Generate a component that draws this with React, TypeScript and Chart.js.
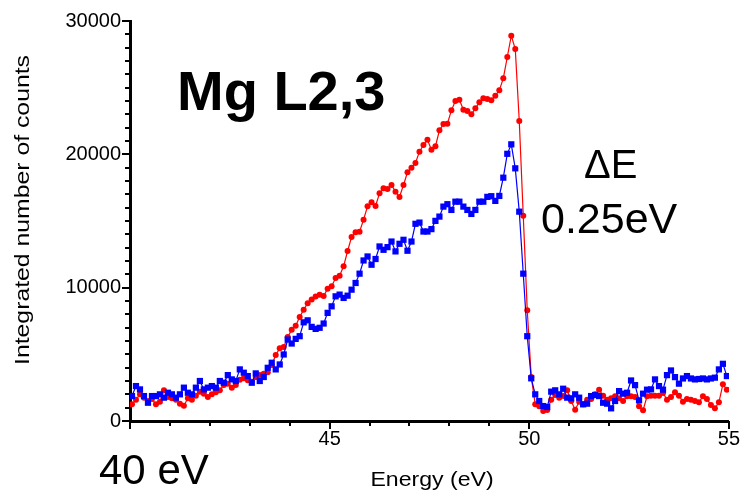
import React, { useEffect, useRef } from "react";
import { Chart, registerables } from "chart.js";

Chart.register(...registerables);

const FONT = '"Liberation Sans", Arial, Helvetica, sans-serif';

// Energy loss (eV) of each channel
const energy = [
  40.05, 40.15, 40.25, 40.35, 40.45, 40.55, 40.65, 40.75, 40.85, 40.95,
  41.05, 41.15, 41.25, 41.35, 41.45, 41.55, 41.65, 41.75, 41.85, 41.95,
  42.05, 42.15, 42.25, 42.35, 42.45, 42.55, 42.65, 42.75, 42.85, 42.95,
  43.05, 43.15, 43.25, 43.35, 43.45, 43.55, 43.65, 43.75, 43.85, 43.95,
  44.05, 44.15, 44.25, 44.35, 44.45, 44.55, 44.65, 44.75, 44.85, 44.95,
  45.05, 45.15, 45.25, 45.35, 45.45, 45.55, 45.65, 45.75, 45.85, 45.95,
  46.05, 46.15, 46.25, 46.35, 46.45, 46.55, 46.65, 46.75, 46.85, 46.95,
  47.05, 47.15, 47.25, 47.35, 47.45, 47.55, 47.65, 47.75, 47.85, 47.95,
  48.05, 48.15, 48.25, 48.35, 48.45, 48.55, 48.65, 48.75, 48.85, 48.95,
  49.05, 49.15, 49.25, 49.35, 49.45, 49.55, 49.65, 49.75, 49.85, 49.95,
  50.05, 50.15, 50.25, 50.35, 50.45, 50.55, 50.65, 50.75, 50.85, 50.95,
  51.05, 51.15, 51.25, 51.35, 51.45, 51.55, 51.65, 51.75, 51.85, 51.95,
  52.05, 52.15, 52.25, 52.35, 52.45, 52.55, 52.65, 52.75, 52.85, 52.95,
  53.05, 53.15, 53.25, 53.35, 53.45, 53.55, 53.65, 53.75, 53.85, 53.95,
  54.05, 54.15, 54.25, 54.35, 54.45, 54.55, 54.65, 54.75, 54.85, 54.95,
];

// Red series (circles)
const redCounts = [
  1250, 1600, 2000, 1750, 1500, 1650, 1250, 1450, 2300, 1800,
  1700, 1600, 1300, 1150, 1700, 1600, 1900, 2200, 2050, 1800,
  2000, 2150, 2300, 2700, 2800, 2500, 2700, 3100, 3200, 3050,
  2950, 3300, 3450, 3550, 3650, 4200, 4950, 5450, 5550, 6300,
  6850, 7150, 7800, 8350, 8830, 9110, 9330, 9470, 9370, 9920,
  10100, 10720, 10900, 11600, 12750, 13800, 14150, 14200, 15100, 16100,
  16400, 16130, 17080, 17450, 17400, 17700, 17200, 16800, 17700, 18650,
  19000, 19350, 20200, 20700, 21100, 20350, 20600, 21800, 22270, 22300,
  23300, 24000, 24100, 23350, 23250, 23000, 23450, 23900, 24200, 24150,
  24060, 24400, 24800, 25700, 27300, 28900, 27900, 22500, 15400, 8300,
  3300, 1250, 1100, 750, 820, 1600, 1950, 1750, 1870, 2300,
  1500, 850, 1450, 1250, 1600, 1650, 2000, 2350, 1900, 1600,
  1700, 1850, 1700, 1500, 1850, 1850, 1800, 1100, 800, 1850,
  1900, 1900, 1900, 2100, 1600, 1800, 2150, 1900, 1450, 1650,
  1600, 1500, 1400, 1850, 1650, 1200, 950, 1400, 2750, 2350,
];

// Blue series (squares)
const blueCounts = [
  1870, 2620, 2370, 1870, 1370, 1870, 1870, 2000, 1750, 2120,
  2000, 1750, 2000, 2500, 2120, 2000, 2500, 3000, 2370, 2500,
  2620, 2500, 3000, 2870, 3440, 3120, 3000, 3870, 3620, 3370,
  2870, 3570, 3000, 3300, 3990, 4370, 3870, 4240, 4990, 6110,
  5810, 6160, 6360, 7400, 7550, 7060, 6910, 6990, 7310, 8110,
  8600, 9350, 9480, 9230, 9400, 9850, 10350, 11050, 12040, 12340,
  11720, 12150, 13090, 12840, 13040, 13460, 12720, 13290, 13590, 12770,
  13460, 14790, 14880, 14210, 14210, 14390, 15010, 15330, 16080, 16260,
  15830, 16450, 16450, 16080, 15830, 15530, 15830, 16450, 16450, 16810,
  16860, 16510, 16880, 18250, 20040, 20750, 18950, 15700, 11050, 6360,
  3200, 2000, 1500, 1120, 1050, 2200, 2300, 2000, 2420, 1750,
  1700, 2000, 1750, 1250, 1300, 1870, 1950, 1870, 1370, 1300,
  950, 1500, 2240, 2050, 2120, 3040, 2690, 1550, 2050, 2350,
  2370, 3120, 2620, 2350, 3440, 3790, 3290, 2800, 3190, 3370,
  3190, 3120, 3150, 3190, 3120, 3190, 3250, 3870, 4290, 3370,
];

const xTickLabels = [45, 50, 55];
const xMajorTicks = [40, 45, 50, 55];
const yTickLabels = [0, 10000, 20000, 30000];

const tickMarks = {
  id: "tickMarks",
  afterDraw(chart: any) {
    const ctx = chart.ctx;
    const xs = chart.scales.x;
    const ys = chart.scales.y;
    ctx.save();
    ctx.strokeStyle = "#000";
    ctx.lineWidth = 2;
    xs.ticks.forEach((t: any) => {
      const px = Math.round(xs.getPixelForValue(t.value));
      const len = xMajorTicks.includes(t.value) ? 8 : 5;
      ctx.beginPath();
      ctx.moveTo(px, xs.top);
      ctx.lineTo(px, xs.top + len);
      ctx.stroke();
    });
    ys.ticks.forEach((t: any) => {
      const py = Math.round(ys.getPixelForValue(t.value));
      const len = yTickLabels.includes(t.value) ? 8 : 5;
      ctx.beginPath();
      ctx.moveTo(ys.right, py);
      ctx.lineTo(ys.right - len, py);
      ctx.stroke();
    });
    ctx.restore();
  },
};

const texts = {
  id: "texts",
  afterDraw(chart: any) {
    const ctx = chart.ctx;
    ctx.save();
    ctx.fillStyle = "#000";
    ctx.textBaseline = "alphabetic";
    ctx.textAlign = "left";
    ctx.font = `bold 56px ${FONT}`;
    ctx.fillText("Mg L2,3", 177, 110);
    ctx.font = `40px ${FONT}`;
    ctx.fillText("\u0394E", 584, 178);
    ctx.font = `43px ${FONT}`;
    ctx.fillText("0.25eV", 541, 233);
    ctx.font = `42px ${FONT}`;
    ctx.fillText("40 eV", 99, 484);
    ctx.restore();

    ctx.save();
    ctx.fillStyle = "#000";
    ctx.textBaseline = "alphabetic";
    ctx.textAlign = "center";
    ctx.font = `21px ${FONT}`;
    ctx.translate(432, 486);
    ctx.scale(1.1, 1);
    ctx.fillText("Energy (eV)", 0, 0);
    ctx.restore();

    ctx.save();
    ctx.fillStyle = "#000";
    ctx.textBaseline = "alphabetic";
    ctx.textAlign = "center";
    ctx.font = `21px ${FONT}`;
    ctx.translate(29, 210);
    ctx.rotate(-Math.PI / 2);
    ctx.scale(1.18, 1);
    ctx.fillText("Integrated number of counts", 0, 0);
    ctx.restore();
  },
};

export default function App() {
  const ref = useRef<HTMLCanvasElement | null>(null);

  useEffect(() => {
    if (!ref.current) return;
    const blue = energy.map((e, i) => ({ x: e, y: blueCounts[i] }));
    const red = energy.map((e, i) => ({ x: e, y: redCounts[i] }));
    const chart = new Chart(ref.current, {
      type: "line",
      data: {
        datasets: [
          {
            label: "blue",
            data: blue,
            borderColor: "#0000ff",
            backgroundColor: "#0000ff",
            borderWidth: 1.2,
            pointStyle: "rect",
            pointRadius: 4.4,
            pointBorderWidth: 0,
            pointBackgroundColor: "#0000ff",
            tension: 0,
          },
          {
            label: "red",
            data: red,
            borderColor: "#ff0000",
            backgroundColor: "#ff0000",
            borderWidth: 1.2,
            pointStyle: "circle",
            pointRadius: 3,
            pointBorderWidth: 0,
            pointBackgroundColor: "#ff0000",
            tension: 0,
          },
        ],
      },
      options: {
        animation: false,
        responsive: false,
        maintainAspectRatio: false,
        layout: { padding: { top: 19, right: 15, left: 0, bottom: 0 } },
        plugins: {
          legend: { display: false },
          tooltip: { enabled: false },
        },
        scales: {
          x: {
            type: "linear",
            min: 40,
            max: 55,
            grid: { display: false, drawTicks: false },
            border: { display: true, color: "#000", width: 3 },
            ticks: {
              stepSize: 1,
              autoSkip: false,
              maxRotation: 0,
              padding: 6,
              color: "#000",
              font: { size: 20, family: FONT },
              callback: (v: any) => (xTickLabels.includes(v) ? String(v) : ""),
            },
            afterFit: (s: any) => {
              s.height = 70;
            },
          },
          y: {
            type: "linear",
            min: 0,
            max: 30000,
            grid: { display: false, drawTicks: false },
            border: { display: true, color: "#000", width: 3 },
            ticks: {
              stepSize: 1000,
              autoSkip: false,
              padding: 9,
              color: "#000",
              font: { size: 20, family: FONT },
              callback: (v: any) => (yTickLabels.includes(v) ? String(v) : ""),
            },
            afterFit: (s: any) => {
              s.width = 130;
            },
          },
        },
      },
      plugins: [tickMarks, texts],
    });
    return () => chart.destroy();
  }, []);

  return (
    <div style={{ position: "absolute", left: 0, top: 0, width: 746, height: 491, background: "#fff" }}>
      <canvas ref={ref} width={746} height={491} style={{ width: 746, height: 491, display: "block" }} />
    </div>
  );
}
